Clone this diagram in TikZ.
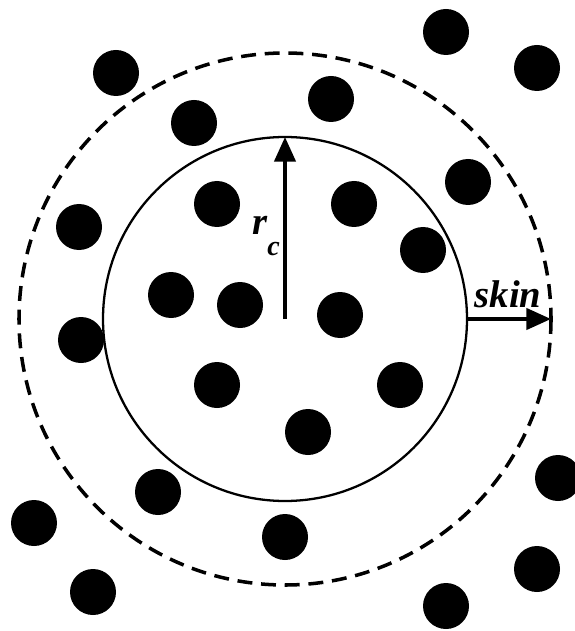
\documentclass[tikz,border=0pt]{standalone}
\usepackage{fontspec}
\setmainfont{Liberation Serif}
\usepackage{tikz}
\usetikzlibrary{arrows.meta, positioning, calc}

\tikzset{
	particle/.style={fill=black},
	cutoff/.style={line width=1.3pt},
	skinline/.style={line width=2pt, dash pattern=on 8.5pt off 5pt},
	radius arrow/.style={line width=2.2pt, -{Triangle[length=14pt,width=12pt]}},
	lbl/.style={font=\fontsize{22}{26}\selectfont\bfseries\itshape, inner sep=0pt}
}

\begin{document}
\begin{tikzpicture}[x=0.02cm, y=-0.02cm]
	\useasboundingbox (0,0) rectangle (574,631);
	\coordinate (centre) at (285,319);
	\coordinate (rtop) at (285,137);
	\coordinate (rright) at (467,319);
	\coordinate (skinend) at (551,319);
	% cut-off sphere and skin
	\draw[cutoff] (centre) circle[radius=182];
	\draw[skinline] (centre) circle[radius=266];
	% particles
	\foreach \px/\py in {446/32, 537/68, 116/73, 331/99, 194/123, 468/182,
		217/204, 354/204, 79/227, 423/250, 171/295, 240/305, 340/315,
		81/340, 217/385, 400/385, 308/432, 558/478, 158/492, 34/523,
		285/537, 537/569, 93/592, 446/606}
		\fill[particle] (\px,\py) circle[radius=23];
	% arrows
	\draw[radius arrow] (centre) -- (rtop);
	\draw[radius arrow] (rright) -- (skinend);
	\node[lbl] (rc) at (266,236) {r\raisebox{-1.2ex}{\fontsize{16}{16}\selectfont c}};
	\node[lbl] (skin) at (508,294) {skin};
\end{tikzpicture}
\end{document}
